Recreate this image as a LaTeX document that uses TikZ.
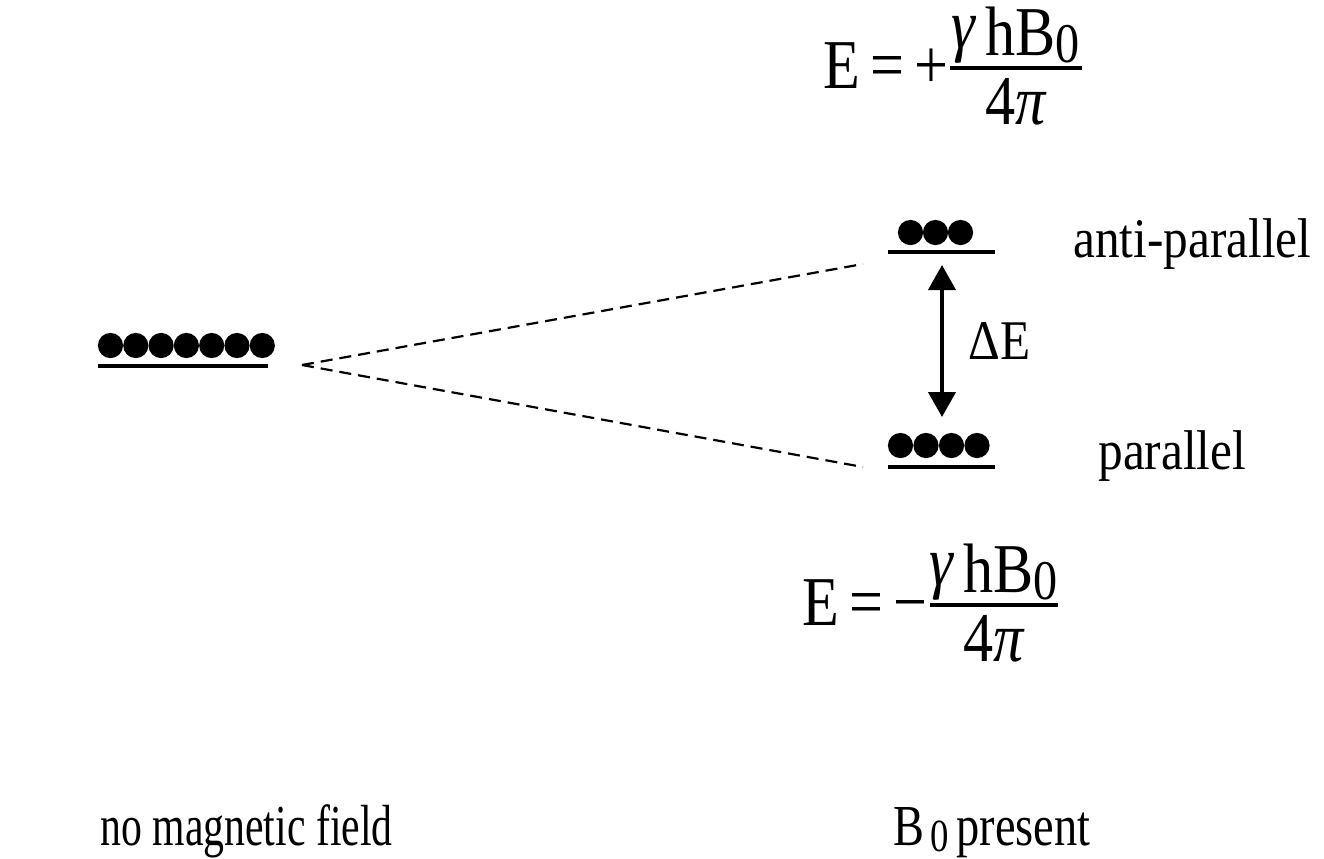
\documentclass[tikz,border=0pt]{standalone}
\usepackage{fontspec}
\setmainfont{Liberation Serif}
\usetikzlibrary{arrows.meta}
\newcommand{\lblsq}[1]{\scalebox{0.88}[1]{#1}}
\newcommand{\fmlsq}[1]{\scalebox{0.86}[1]{#1}}
\newcommand{\footsq}[1]{\scalebox{0.72}[1]{#1}}
\newcommand{\presq}[1]{\scalebox{0.8}[1]{#1}}
\newcommand{\gam}{\raisebox{0.1em}{\itshape γ}}
\begin{document}
\begin{tikzpicture}[x=0.5pt,y=-0.5pt,
  dot/.style={circle,fill=black,inner sep=0pt,minimum size=12.6pt},
  levelline/.style={line width=1.9pt},
  splitline/.style={dash pattern=on 6pt off 3.5pt, line width=1.1pt},
  gaparrow/.style={line width=2pt, {Triangle[length=12.5pt,width=13.5pt]}-{Triangle[length=12.5pt,width=13.5pt]}},
  lbl/.style={inner sep=0pt, font=\fontsize{28}{33}\selectfont},
  fml/.style={inner sep=0pt, font=\fontsize{35}{41}\selectfont},
  foot/.style={inner sep=0pt, font=\fontsize{29}{34}\selectfont},
  barline/.style={line width=2pt},
]
\useasboundingbox (0,0) rectangle (1324,858);

% left level (no field)
\foreach \i in {0,...,6} {
  \node[dot] (L\i) at ({110.5+\i*25.3},345.5) {};
}
\coordinate (LlineA) at (98,366);
\coordinate (LlineB) at (268,366);
\draw[levelline] (LlineA) -- (LlineB);

% upper level (anti-parallel)
\foreach \i in {0,1,2} {
  \node[dot] (U\i) at ({910.5+\i*25},232.5) {};
}
\coordinate (UlineA) at (888,252);
\coordinate (UlineB) at (995,252);
\draw[levelline] (UlineA) -- (UlineB);

% lower level (parallel)
\foreach \i in {0,...,3} {
  \node[dot] (P\i) at ({900.5+\i*25.5},445.5) {};
}
\coordinate (PlineA) at (888,467);
\coordinate (PlineB) at (995,467);
\draw[levelline] (PlineA) -- (PlineB);

% splitting dashed lines
\coordinate (split) at (302,365);
\coordinate (upEnd) at (863,264);
\coordinate (loEnd) at (863,467);
\draw[splitline] (split) -- (upEnd);
\draw[splitline] (split) -- (loEnd);

% energy gap arrow
\coordinate (arrTop) at (942,265);
\coordinate (arrBot) at (942,417);
\draw[gaparrow] (arrTop) -- (arrBot);
\node[lbl, anchor=base west] (dE) at (968,359) {\lblsq{ΔE}};

% labels
\node[lbl, anchor=base west] (anti) at (1073,257) {\lblsq{anti-parallel}};
\node[lbl, anchor=base west] (para) at (1098,469) {\lblsq{parallel}};

% top formula
\node[fml, anchor=base west] (Etop) at (823,88) {\fmlsq{E\,=\,+}};
\coordinate (barTopA) at (950,68);
\coordinate (barTopB) at (1082,68);
\draw[barline] (barTopA) -- (barTopB);
\node[fml, anchor=base] (numTop) at (1016,55) {\fmlsq{\gam\,hB\raisebox{-3.5pt}{\fontsize{28}{33}\selectfont 0}}};
\node[fml, anchor=base] (denTop) at (1016,124) {\fmlsq{4{\itshape π}}};

% bottom formula
\node[fml, anchor=base west] (Ebot) at (802,625) {\fmlsq{E\,=\,−}};
\coordinate (barBotA) at (930,605);
\coordinate (barBotB) at (1058,605);
\draw[barline] (barBotA) -- (barBotB);
\node[fml, anchor=base] (numBot) at (994,592) {\fmlsq{\gam\,hB\raisebox{-3.5pt}{\fontsize{28}{33}\selectfont 0}}};
\node[fml, anchor=base] (denBot) at (994,661) {\fmlsq{4{\itshape π}}};

% bottom captions
\node[foot, anchor=base west] (nofield) at (100,845) {\footsq{no magnetic field}};
\node[foot, anchor=base west] (present) at (893,845) {\presq{B\raisebox{-3pt}{\fontsize{23}{27}\selectfont\,0}\,present}};
\end{tikzpicture}
\end{document}
